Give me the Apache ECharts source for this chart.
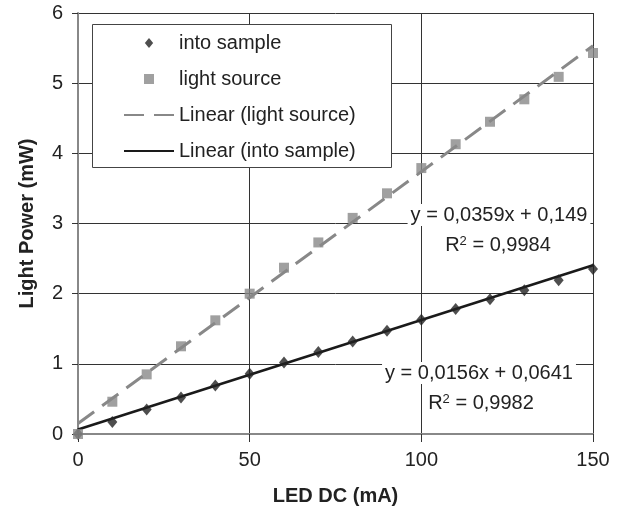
<!DOCTYPE html>
<html>
<head>
<meta charset="utf-8">
<script src="https://cdn.jsdelivr.net/npm/echarts@6/dist/echarts.min.js"></script>
<style>html,body{margin:0;padding:0;background:#fff;}#c{width:620px;height:511px;}</style>
</head>
<body>
<div id="c"></div>
<script>
// LED current (mA)
var currents = [0, 10, 20, 30, 40, 50, 60, 70, 80, 90, 100, 110, 120, 130, 140, 150];
// Light power into sample (mW)
var intoSample = [0, 0.17, 0.35, 0.52, 0.69, 0.86, 1.02, 1.17, 1.32, 1.47, 1.63, 1.78, 1.92, 2.05, 2.19, 2.35];
// Light power of light source (mW)
var lightSource = [0, 0.46, 0.85, 1.25, 1.62, 2.00, 2.37, 2.73, 3.08, 3.43, 3.79, 4.13, 4.45, 4.77, 5.09, 5.43];
// Linear trend coefficients [slope, intercept]
var lightFit = [0.0359, 0.149];
var sampleFit = [0.0156, 0.0641];
var trendX = [0, 150];
// Axis ticks
var xTicks = [0, 50, 100, 150];
var yTicks = [0, 1, 2, 3, 4, 5, 6];
// Labels
var seriesNames = ['into sample', 'light source', 'Linear (light source)', 'Linear (into sample)'];
var eqLight = ['y = 0,0359x + 0,149', '0,9984'];
var eqSample = ['y = 0,0156x + 0,0641', '0,9982'];

function pairs(xs, ys) { return xs.map(function (x, i) { return [x, ys[i]]; }); }
function trend(coef) { return trendX.map(function (x) { return [x, coef[0] * x + coef[1]]; }); }

var FONT = 'Liberation Sans, Arial, sans-serif';
var chart = echarts.init(document.getElementById('c'), null, { renderer: 'canvas' });

function eqText(txt, x, y, rich) {
  return {
    type: 'text', x: x, y: y, z: 10,
    style: {
      text: txt, font: '20px ' + FONT, fill: '#222',
      align: 'center', verticalAlign: 'middle',
      backgroundColor: '#fff', padding: [1, 3],
      rich: rich ? {
        sup: { fontSize: 13, fontFamily: FONT, fill: '#222', verticalAlign: 'top', padding: [0, 0, 8, 0] }
      } : undefined
    }
  };
}

chart.setOption({
  animation: false,
  backgroundColor: '#fff',
  textStyle: { fontFamily: FONT },
  grid: { left: 78, right: 27, top: 13, bottom: 77, containLabel: false },
  xAxis: {
    type: 'value', min: xTicks[0], max: xTicks[xTicks.length - 1], interval: 50,
    name: 'LED DC (mA)', nameLocation: 'middle', nameGap: 52,
    nameTextStyle: { fontSize: 20, fontWeight: 'bold', color: '#222', fontFamily: FONT },
    axisLine: { show: true, lineStyle: { color: '#888', width: 2 } },
    axisTick: { show: true, length: 8, lineStyle: { color: '#333' } },
    axisLabel: { fontSize: 20, color: '#222', margin: 16, fontFamily: FONT },
    splitLine: { show: true, lineStyle: { color: '#333', width: 1 } }
  },
  yAxis: {
    type: 'value', min: yTicks[0], max: yTicks[yTicks.length - 1], interval: 1,
    name: 'Light Power (mW)', nameLocation: 'middle', nameGap: 41,
    nameTextStyle: { fontSize: 20, fontWeight: 'bold', color: '#222', fontFamily: FONT },
    axisLine: { show: true, lineStyle: { color: '#888', width: 2 } },
    axisTick: { show: true, length: 6, lineStyle: { color: '#333' } },
    axisLabel: { fontSize: 20, color: '#222', margin: 15, fontFamily: FONT },
    splitLine: { show: true, lineStyle: { color: '#333', width: 1 } }
  },
  legend: {
    orient: 'vertical', left: 123, top: 33, padding: 0, z: 6,
    itemWidth: 50, itemHeight: 10, itemGap: 16, symbolKeepAspect: true,
    textStyle: { fontSize: 20, lineHeight: 20, color: '#222', fontFamily: FONT },
    data: [
      { name: seriesNames[0], icon: 'path://M5 0 L10 6 L5 12 L0 6 Z', symbolKeepAspect: true },
      { name: seriesNames[1], icon: 'path://M0 0 L10 0 L10 10 L0 10 Z', symbolKeepAspect: true },
      { name: seriesNames[2], itemStyle: { opacity: 0 } },
      { name: seriesNames[3], itemStyle: { opacity: 0 } }
    ]
  },
  graphic: [
    { type: 'rect', z: 4, shape: { x: 92.5, y: 24.5, width: 299, height: 143 },
      style: { fill: '#fff', stroke: '#444', lineWidth: 1 } },
    eqText(eqLight[0], 499, 215, false),
    eqText('R{sup|2} = ' + eqLight[1], 498, 245, true),
    eqText(eqSample[0], 479, 373, false),
    eqText('R{sup|2} = ' + eqSample[1], 481, 403, true)
  ],
  series: [
    {
      name: seriesNames[2], type: 'line', data: trend(lightFit), showSymbol: false, symbol: 'none', z: 2,
      lineStyle: { color: '#888', width: 3, type: [20, 10] }, itemStyle: { color: '#888' }
    },
    {
      name: seriesNames[3], type: 'line', data: trend(sampleFit), showSymbol: false, symbol: 'none', z: 2,
      lineStyle: { color: '#1a1a1a', width: 2.5 }, itemStyle: { color: '#1a1a1a' }
    },
    {
      name: seriesNames[0], type: 'scatter', data: pairs(currents, intoSample), z: 3,
      symbol: 'diamond', symbolSize: [10, 12], itemStyle: { color: '#222' }
    },
    {
      name: seriesNames[1], type: 'scatter', data: pairs(currents, lightSource), z: 3,
      symbol: 'rect', symbolSize: 10, itemStyle: { color: '#888' }
    }
  ]
});
</script>
</body>
</html>
